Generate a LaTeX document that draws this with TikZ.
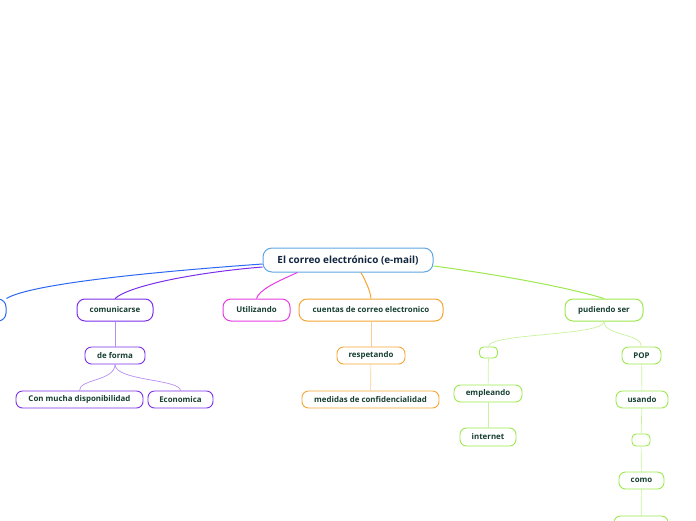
\documentclass[tikz,border=0pt]{standalone}
\usepackage{fontspec}
\setmainfont{Open Sans}
\usetikzlibrary{calc}
\definecolor{mroot}{HTML}{5FA6E3}
\definecolor{mblue}{HTML}{2D68F2}
\definecolor{mviolet}{HTML}{7B2FEA}
\definecolor{mpink}{HTML}{E53DE2}
\definecolor{morange}{HTML}{F5A533}
\definecolor{mlime}{HTML}{9DE84E}
\definecolor{mtext}{HTML}{173F32}
\definecolor{mnavy}{HTML}{12253F}
\tikzset{
  rootbox/.style={draw=mroot, line width=1pt, fill=white, rounded corners=9pt,
                  minimum height=24pt, text=mnavy, inner sep=2pt,
                  font=\bfseries\fontsize{9.9}{11}\selectfont},
  topicbox/.style={draw=#1, line width=1pt, fill=white, rounded corners=8pt,
                   minimum height=22pt, text=mtext, inner sep=2pt,
                   font=\bfseries\fontsize{7.9}{9}\selectfont},
  subbox/.style={draw=#1, line width=0.9pt, fill=white, rounded corners=6.5pt,
                 minimum height=17pt, text=mtext, inner sep=2pt,
                 font=\bfseries\fontsize{7.9}{9}\selectfont},
  branch/.style={draw=#1, line width=1pt},
  twig/.style={draw=#1!55, line width=0.7pt},
}
\begin{document}
\begin{tikzpicture}[x=1pt, y=-1pt]
  \useasboundingbox (0,0) rectangle (696,520);
  \clip (0,0) rectangle (696,520);
  % Centro
  \node[rootbox, minimum width=170pt] (root) at (348,260) {El correo electrónico (e-mail)};
  % Primer nivel
  \node[topicbox=mblue,   minimum width=62pt]  (left)  at (-25,310) {};
  \node[topicbox=mviolet, minimum width=76pt]  (com)   at (115,310) {comunicarse};
  \node[topicbox=mpink,   minimum width=67pt]  (util)  at (256.5,310) {Utilizando};
  \node[topicbox=morange, minimum width=144pt] (cta)   at (371,310) {cuentas de correo electronico};
  \node[topicbox=mlime,   minimum width=78pt]  (pud)   at (604,310) {pudiendo ser};
  % comunicarse
  \node[subbox=mviolet, minimum width=60pt]  (forma) at (115,355.5) {de forma};
  \node[subbox=mviolet, minimum width=127pt] (disp)  at (79.5,399.5) {Con mucha disponibilidad};
  \node[subbox=mviolet, minimum width=65pt]  (eco)   at (180.5,399.5) {Economica};
  % cuentas
  \node[subbox=morange, minimum width=68pt]  (resp)  at (371,355.5) {respetando};
  \node[subbox=morange, minimum width=137pt] (conf)  at (370.5,399.5) {medidas de confidencialidad};
  % pudiendo ser
  \node[subbox=mlime, minimum width=18pt, minimum height=11pt, rounded corners=4pt] (vacA) at (488.5,352.5) {};
  \node[subbox=mlime, minimum width=39pt]  (pop)   at (641.5,355.5) {POP};
  \node[subbox=mlime, minimum width=68pt]  (empl)  at (488,393.5) {empleando};
  \node[subbox=mlime, minimum width=56pt, minimum height=18pt] (inet) at (488,437) {internet};
  \node[subbox=mlime, minimum width=52pt]  (usa)   at (642,399.5) {usando};
  \node[subbox=mlime, minimum width=18pt, minimum height=12pt, rounded corners=4pt] (vacB) at (641,440) {};
  \node[subbox=mlime, minimum width=45pt]  (como)  at (641.5,480.5) {como};
  \node[subbox=mlime, minimum width=54pt, minimum height=28pt] (abajo) at (641,530) {};
  % Ramas principales
  \draw[branch=mblue]   ($(root.west)+(0,4)$) .. controls (150,272) and (30,284) .. (left.north east);
  \draw[branch=mviolet] ($(root.west)+(0,7)$) .. controls (200,272) and (130,285) .. (com.north);
  \draw[branch=mpink]   ($(root.south west)+(35,0)$) .. controls (276,282) and (259,290) .. (util.north);
  \draw[branch=morange] ($(root.south)+(13,0)$) .. controls (366,282) and (370,290) .. (cta.north);
  \draw[branch=mlime]   ($(root.east)+(0,6)$) .. controls (480,272) and (560,285) .. (pud.north);
  % Ramas secundarias
  \draw[twig=mviolet] (com) -- (forma);
  \draw[twig=mviolet] (forma.south) .. controls (115,381) and (79,379) .. (disp.north);
  \draw[twig=mviolet] (forma.south) .. controls (115,381) and (180,379) .. (eco.north);
  \draw[twig=morange] (cta) -- (resp);
  \draw[twig=morange] (resp) -- (conf);
  \draw[twig=mlime] (pud.south) .. controls (604,336) and (488.5,333) .. (vacA.north);
  \draw[twig=mlime] (pud.south) .. controls (604,336) and (641.5,333) .. (pop.north);
  \draw[twig=mlime] (vacA) -- (empl);
  \draw[twig=mlime] (empl) -- (inet);
  \draw[twig=mlime] (pop) -- (usa);
  \draw[twig=mlime] (usa) -- (vacB);
  \draw[twig=mlime] (vacB) -- (como);
  \draw[twig=mlime] (como) -- (abajo);
\end{tikzpicture}
\end{document}
